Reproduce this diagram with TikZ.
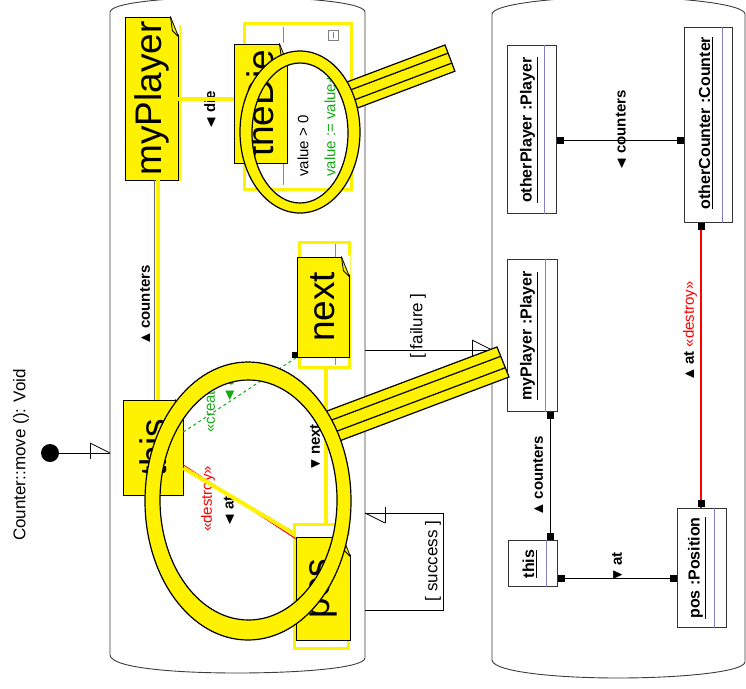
\documentclass[tikz,border=0pt]{standalone}
\usepackage{amsmath}
\usepackage{amssymb}
\usepackage{fontspec}
\setmainfont{Liberation Sans}
\usetikzlibrary{arrows.meta}
\definecolor{lavend}{RGB}{130,130,200}
\definecolor{dgreen}{RGB}{20,170,20}
\definecolor{panelgray}{RGB}{60,60,60}
\definecolor{linkred}{RGB}{255,0,0}

\tikzset{
    panel/.style={draw=panelgray, line width=0.9pt},
    trans/.style={draw=black, line width=0.8pt},
    objbox/.style={draw=black!80, fill=white, line width=1pt, inner sep=0pt},
    hiddenbox/.style={draw=yellow, fill=white, line width=3pt, inner sep=0pt},
    stickynote/.style={draw=black, fill=yellow, line width=0.8pt, inner sep=0pt, font=\fontsize{37}{40}\selectfont},
    objname/.style={rotate=90, inner sep=0pt, font=\bfseries\fontsize{16}{18}\selectfont},
    linklabel/.style={rotate=90, inner sep=0pt, font=\bfseries\fontsize{15}{17}\selectfont},
    stereo/.style={rotate=90, inner sep=0pt, font=\fontsize{15}{17}\selectfont},
    guard/.style={rotate=90, inner sep=0pt, font=\fontsize{17}{19}\selectfont},
    link/.style={draw=black, line width=0.8pt, {Square[length=7pt,width=7pt]}-{Square[length=7pt,width=7pt]}},
    endsq/.style={fill=black, minimum size=7pt, inner sep=0pt},
    yline/.style={draw=yellow, line width=4pt},
    lavline/.style={draw=lavend, line width=0.8pt},
    lens/.style={draw=black, fill=yellow, line width=1.2pt, even odd rule},
    handle/.style={draw=black, fill=yellow, line width=1.2pt}
}

\begin{document}
\begin{tikzpicture}[x=1pt,y=-1pt]
    \useasboundingbox (0,0) rectangle (746,688);

    \newcommand{\halfarrow}[2]{
        \begin{scope}[shift={(#1)}, rotate=#2]
            \draw[trans] (-20,-10) -- (0,0);
            \draw[trans] (-20,-10) -- (-20,6);
        \end{scope}
    }
    \newcommand{\dogear}[1]{
        \fill[white] ([xshift=1pt,yshift=1pt]#1.north east) -- ([xshift=-8pt,yshift=1pt]#1.north east) -- ([xshift=1pt,yshift=-20pt]#1.north east) -- cycle;
        \draw[line width=0.8pt] ([xshift=-8pt]#1.north east) -- ([yshift=-20pt]#1.north east);
        \draw[line width=0.8pt] ([xshift=-8pt]#1.north east) -- ([xshift=-6pt,yshift=-14pt]#1.north east) -- ([yshift=-20pt]#1.north east);
    }

    % method name and start
    \node[guard] (headline) at (21,455) {Counter::move (): Void};
    \node[circle, fill=black, minimum size=18pt, inner sep=0pt] (start) at (50,453) {};
    \coordinate (lpin) at (110,453);
    \draw[trans] (start) -- (lpin);
    \halfarrow{lpin}{0}

    % the two activities
    \draw[panel] (110,12) -- (110,655) .. controls (111,668) and (175,673) .. (237,673)
        .. controls (300,673) and (364,668) .. (365,658) -- (365,12)
        .. controls (364,2) and (300,-3) .. (237,-3) .. controls (175,-3) and (111,2) .. (110,12);
    \draw[panel] (492,14) -- (492,660) .. controls (493,672) and (557,678) .. (618,678)
        .. controls (680,678) and (744,672) .. (745,662) -- (745,14)
        .. controls (744,4) and (680,-3) .. (618,-3) .. controls (557,-3) and (493,4) .. (492,14);

    % transitions
    \coordinate (lpfail) at (365,350);
    \coordinate (rpfail) at (492,350);
    \draw[trans] (lpfail) -- (rpfail);
    \halfarrow{rpfail}{0}
    \node[guard] (failure) at (418,326) {[ failure ]};
    \coordinate (lpsucc0) at (365,610);
    \coordinate (lpsucc1) at (365,513);
    \draw[trans] (lpsucc0) -- ++(78,0) |- (lpsucc1);
    \halfarrow{lpsucc1}{180}
    \node[guard] (success) at (433,561) {[ success ]};

    % right activity
    \node[objbox, minimum width=49pt, minimum height=168pt] (oplayer) at (531.5,129) {};
    \node[objbox, minimum width=48pt, minimum height=195pt] (ocounter) at (708,124.5) {};
    \node[objbox, minimum width=50pt, minimum height=152pt] (mplayer) at (532,335) {};
    \node[objbox, minimum width=49pt, minimum height=46pt] (thisobj) at (532.5,563) {};
    \node[objbox, minimum width=49pt, minimum height=119pt] (posobj) at (701.5,567.5) {};
    \draw[lavline] (oplayer.north -| 544,0) -- (oplayer.south -| 544,0);
    \draw[lavline] (ocounter.north -| 722,0) -- (ocounter.south -| 722,0);
    \draw[lavline] (mplayer.north -| 545,0) -- (mplayer.south -| 545,0);
    \draw[lavline] (thisobj.north -| 546,0) -- (thisobj.south -| 546,0);
    \draw[lavline] (posobj.north -| 714,0) -- (posobj.south -| 714,0);
    \node[objname] (oplayername) at (529,130) {\underline{otherPlayer :Player}};
    \node[objname] (ocountername) at (706,123) {\underline{otherCounter :Counter}};
    \node[objname] (mplayername) at (529,336) {\underline{myPlayer :Player}};
    \node[objname] (thisname) at (530,564) {\underline{this}};
    \node[objname] (posname) at (697,568) {\underline{pos :Position}};

    \draw[link] (oplayer.east |- 0,140) -- (ocounter.west |- 0,140);
    \draw[link] (mplayer.south -| 550,0) -- (thisobj.north -| 550,0);
    \draw[link] (thisobj.east |- 0,578) -- (posobj.west |- 0,578);
    \draw[draw=linkred, line width=1.2pt] (ocounter.south -| 701,0) -- (posobj.north -| 701,0);
    \node[endsq, anchor=north] (sqtop) at (ocounter.south -| 701,0) {};
    \node[endsq, anchor=south] (sqbot) at (posobj.north -| 701,0) {};
    \node[linklabel] (lblcnt2) at (621,130) {$\blacktriangleleft$ counters};
    \node[linklabel] (lblcnt3) at (538,475) {$\blacktriangle$ counters};
    \node[linklabel, anchor=west] (lblat2) at (617,581) {$\blacktriangledown$ at};
    \node[linklabel, anchor=west] (lblat3) at (690,380) {$\blacktriangle$ at \textcolor{linkred}{\mdseries «destroy»}};

    % left activity, objects underneath the notes
    \node[hiddenbox, minimum width=107pt, minimum height=166pt] (diebox) at (297.5,106) {};
    \draw[lavline] (283,27) -- (283,185);
    \draw[gray, line width=0.8pt] (328,30) rectangle (338,40);
    \draw[gray, line width=0.8pt] (333,32) -- (333,38);
    \node[stereo, anchor=west] (cond) at (303,177) {value > 0};
    \node[stereo, anchor=west, text=dgreen] (assign) at (330,177) {value := value+1};
    \node[hiddenbox, minimum width=50pt, minimum height=125pt] (nextbox) at (324,304.5) {};
    \draw[lavline] (335,244) -- (335,365);
    \node[hiddenbox, minimum width=54pt, minimum height=124pt] (posbox) at (321,586) {};

    % left activity, links
    \node[linklabel] (lblcnt0) at (145,304.5) {$\blacktriangle$ counters};
    \node[linklabel] (lbldie) at (210,110) {$\blacktriangleleft$ die};
    \node[linklabel] (lblnext) at (315,447) {$\blacktriangledown$ next};
    \node[stereo, anchor=west, text=linkred] (lbldestroy) at (208,532) {«destroy»};
    \node[linklabel, anchor=west] (lblat0) at (229,526) {$\blacktriangleleft$ at};
    \node[stereo, anchor=west, text=dgreen] (lblcreate) at (210,433) {«create»};
    \node[linklabel, anchor=west, text=dgreen] (lblat1) at (229,402) {$\blacktriangleleft$ at};

    % sticky notes
    \fill[yellow] (128,25) rectangle (181,181);
    \node[stickynote, minimum width=53pt, minimum height=163pt] (myplayer) at (151.5,98.5) {\rotatebox{90}{myPlayer}};
    \node[stickynote, minimum width=53pt, minimum height=119pt] (thedie) at (260.5,103.5) {\rotatebox{90}{theDie}};
    \node[stickynote, minimum width=52pt, minimum height=100pt] (nextn) at (323,307) {\rotatebox{90}{next}};
    \node[stickynote, minimum width=60pt, minimum height=95pt] (this) at (153,447.5) {\rotatebox{90}{this}};
    \node[stickynote, minimum width=54pt, minimum height=103pt] (posn) at (323,588.5) {\rotatebox{90}{pos}};

    \draw[black!60, line width=0.6pt] (myplayer.south -| 154,0) -- (this.north -| 154,0);
    \draw[yline] (myplayer.south -| 158,0) -- (this.north -| 158,0);
    \draw[yline] (myplayer.east) -- (thedie.west |- myplayer.east);
    \draw[yline] (nextbox.south -| 326,0) -- (posbox.north -| 326,0);
    \draw[dgreen, dashed, line width=1pt] (this.east |- 0,432) -- (nextn.south west);
    \node[endsq, minimum size=6pt] (sqnext) at ([xshift=-2pt,yshift=2pt]nextn.south west) {};
    \draw[linkred, line width=1pt] (this.east |- 0,465) -- ([yshift=-2pt]posn.north west);
    \draw[yline] (this.east |- 0,468) -- ([yshift=2pt]posn.north west);

    \dogear{myplayer}
    \dogear{thedie}
    \dogear{nextn}
    \dogear{this}
    \dogear{posn}

    % magnifying glasses
    \filldraw[handle] (341.7,84) -- (445,45) -- (454.9,71.2) -- (351.7,110.2) -- cycle;
    \draw[line width=1.2pt] (344.8,92.1) -- (448.1,53.1);
    \draw[line width=1.2pt] (348.6,102.1) -- (451.8,63.1);
    \path[lens] (300,132) ellipse [x radius=60, y radius=81] (300,133) ellipse [x radius=48, y radius=70];

    \filldraw[handle] (319,414) -- (497,347) -- (509,377) -- (334,443) -- cycle;
    \draw[line width=1.2pt] (323.7,423) -- (500.7,356.3);
    \draw[line width=1.2pt] (329.4,434) -- (505.3,367.7);
    \path[lens] (248,501) ellipse [x radius=103, y radius=139] (248.5,500) ellipse [x radius=88.5, y radius=120];
\end{tikzpicture}
\end{document}
